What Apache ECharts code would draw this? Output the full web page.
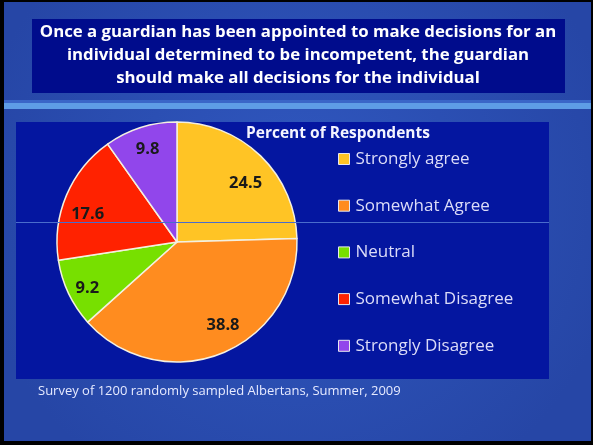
<!DOCTYPE html>
<html>
<head>
<meta charset="utf-8">
<script src="https://cdn.jsdelivr.net/npm/echarts@6/dist/echarts.min.js"></script>
<style>
html,body{margin:0;padding:0;background:#000;}
#chart{width:593px;height:445px;}
</style>
</head>
<body>
<div id="chart"></div>
<script>
const categories = ['Strongly agree', 'Somewhat Agree', 'Neutral', 'Somewhat Disagree', 'Strongly Disagree'];
const values = [24.5, 38.8, 9.2, 17.6, 9.8];
const colors = ['#ffc425', '#ff8c1f', '#77e000', '#ff2200', '#9146eb'];
const titleLines = [
  'Once a guardian has been appointed to make decisions for an',
  'individual determined to be incompetent, the guardian',
  'should make all decisions for the individual'
];
const legendTitle = 'Percent of Respondents';
const footer = 'Survey of 1200 randomly sampled Albertans, Summer, 2009';

const chart = echarts.init(document.getElementById('chart'));
const pieData = categories.map((c, i) => ({name: c, value: values[i], itemStyle: {color: colors[i]}}));
const font = '"Open Sans", Lato, sans-serif';
// small label nudges (style only) to mimic the original label placement
const labelNudge = [[1, 11], [10, -7], [-2, 5], [0, 10], [0, 0]];

chart.setOption({
  backgroundColor: '#000',
  animation: false,
  graphic: [
    {type: 'rect', z: -10, shape: {x: 4, y: 2, width: 587, height: 439},
     style: {fill: new echarts.graphic.RadialGradient(0.5, 0.45, 0.75, [
       {offset: 0, color: '#3058c0'}, {offset: 1, color: '#2646a6'}])}},
    {type: 'rect', z: -9, shape: {x: 4, y: 100, width: 587, height: 3}, style: {fill: '#3a66c8'}},
    {type: 'rect', z: -9, shape: {x: 4, y: 103, width: 587, height: 6}, style: {fill: '#5e9de6'}},
    {type: 'rect', z: -9, shape: {x: 32, y: 19, width: 533, height: 74}, style: {fill: '#000c8c'}},
    {type: 'rect', z: -9, shape: {x: 16, y: 122, width: 533, height: 257}, style: {fill: '#0416a0'}},
    {type: 'text', z: 5, x: 298, y: 32, style: {text: titleLines[0], fill: '#fff', font: 'bold 16.8px ' + font, textAlign: 'center', textVerticalAlign: 'middle'}},
    {type: 'text', z: 5, x: 298, y: 55, style: {text: titleLines[1], fill: '#fff', font: 'bold 16.8px ' + font, textAlign: 'center', textVerticalAlign: 'middle'}},
    {type: 'text', z: 5, x: 298, y: 78, style: {text: titleLines[2], fill: '#fff', font: 'bold 16.8px ' + font, textAlign: 'center', textVerticalAlign: 'middle'}},
    {type: 'text', z: 5, x: 38, y: 391, style: {text: footer, fill: '#e6eaff', font: '13px ' + font, textAlign: 'left', textVerticalAlign: 'middle'}},
    {type: 'text', z: 5, x: 338, y: 134, style: {text: legendTitle, fill: '#f4f4ff', font: 'bold 15.5px ' + font, textAlign: 'center', textVerticalAlign: 'middle'}},
    {type: 'rect', z: 100, zlevel: 1, shape: {x: 16, y: 222, width: 533, height: 1}, style: {fill: '#4a6ccc'}}
  ],
  legend: {
    orient: 'vertical',
    left: 333,
    top: 144,
    itemWidth: 11,
    itemHeight: 11,
    itemGap: 26.7,
    icon: 'rect',
    itemStyle: {borderColor: '#e8e8f0', borderWidth: 1},
    textStyle: {color: '#dcdcf8', fontSize: 17, fontFamily: font, padding: [0, 0, 0, 1], lineHeight: 20},
    data: categories
  },
  series: [
    {
      type: 'pie',
      center: [177, 242],
      radius: [0, 120],
      startAngle: 90,
      clockwise: true,
      label: {show: false},
      labelLine: {show: false},
      itemStyle: {borderColor: '#f4f0e0', borderWidth: 1.5},
      emphasis: {disabled: true},
      data: pieData
    },
    {
      type: 'pie',
      center: [177, 242],
      radius: [68, 120],
      startAngle: 90,
      clockwise: true,
      silent: true,
      legendHoverLink: false,
      itemStyle: {color: 'rgba(0,0,0,0)', borderWidth: 0},
      label: {show: true, position: 'inside', formatter: '{c}', color: '#1a1a1a', fontSize: 16.5, fontWeight: 'bold', fontFamily: font},
      labelLine: {show: false},
      emphasis: {disabled: true},
      data: categories.map((c, i) => ({name: c + ' ', value: values[i], itemStyle: {color: 'rgba(0,0,0,0)'},
        label: {offset: labelNudge[i]}}))
    }
  ]
});
</script>
</body>
</html>
